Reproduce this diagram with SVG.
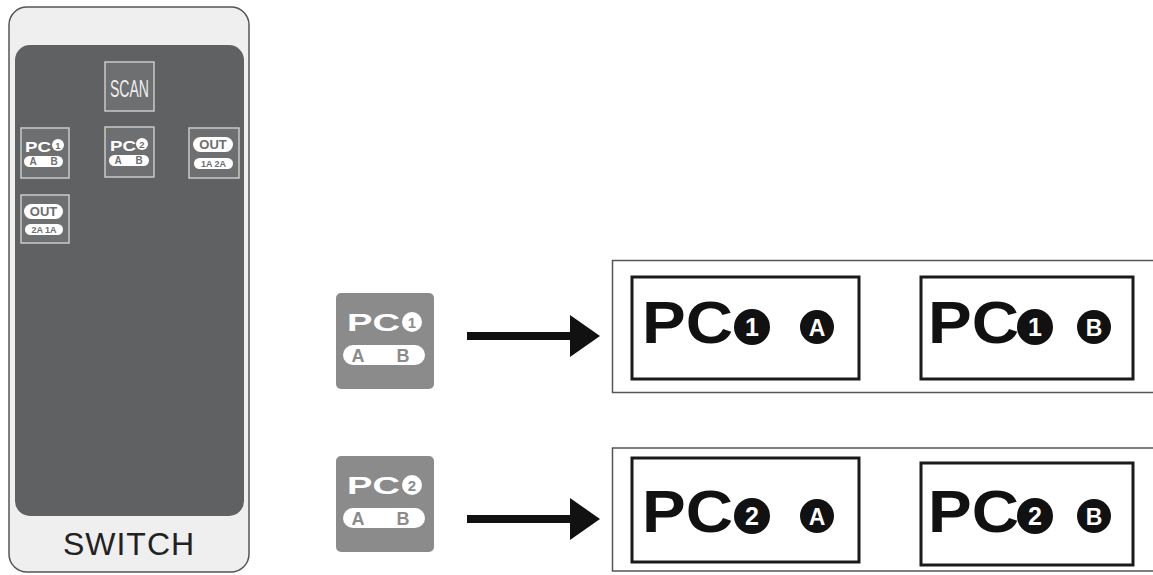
<svg xmlns="http://www.w3.org/2000/svg" width="1153" height="575" viewBox="0 0 1153 575">
<style>
.f{font-family:"Liberation Sans",Arial,sans-serif}
.b{font-weight:bold}
.btn{fill:#6d6f70;stroke:#c9c9c9;stroke-width:1.5}
.wt{fill:#ffffff}
.gt{fill:#6d6f70}
.it{fill:#8b8b8b}
.box{fill:#ffffff;stroke:#555;stroke-width:1.5}
.inner{fill:none;stroke:#1a1a1a;stroke-width:3}
.big{font-family:"Liberation Sans",Arial,sans-serif;font-weight:bold;font-size:60px;fill:#111}
.cd{fill:#111}
.ct{font-family:"Liberation Sans",Arial,sans-serif;font-weight:bold;fill:#fff;text-anchor:middle}
.arr{stroke:#111;stroke-width:8;fill:none}
</style>
<defs>
<marker id="ah" viewBox="0 0 30 42" refX="1" refY="21" markerWidth="30" markerHeight="42" markerUnits="userSpaceOnUse" orient="auto">
<path d="M0,0 L30,21 L0,42 Z" fill="#111"/>
</marker>
</defs>
<rect width="1153" height="575" fill="#fff"/>

<g id="switch-panel">
<rect x="9" y="7" width="240" height="565" rx="18" fill="#efefef" stroke="#555" stroke-width="1.5"/>
<rect x="15" y="45" width="229" height="471" rx="15" fill="#5f6162"/>
<text x="129" y="555" class="f" font-size="32" fill="#222" text-anchor="middle" letter-spacing="1">SWITCH</text>
</g>

<g id="btn-scan">
<rect x="105" y="62" width="49" height="49" class="btn"/>
<text x="110" y="97" class="f" font-size="24" fill="#eee" textLength="39" lengthAdjust="spacingAndGlyphs">SCAN</text>
</g>

<g id="btn-pc1">
<rect x="21" y="128" width="48" height="50" class="btn"/>
<text x="25" y="151.5" class="f b wt" font-size="15" textLength="26" lengthAdjust="spacingAndGlyphs">PC</text>
<circle cx="58" cy="145" r="6" class="wt"/>
<text x="58" y="148.5" class="f b gt" font-size="9.5" text-anchor="middle">1</text>
<rect x="24" y="156" width="39" height="11" rx="5.5" class="wt"/>
<text x="33" y="165" class="f b gt" font-size="10" text-anchor="middle">A</text>
<text x="54" y="165" class="f b gt" font-size="10" text-anchor="middle">B</text>
</g>

<g id="btn-pc2">
<rect x="105" y="127" width="49" height="50" class="btn"/>
<text x="110" y="150.5" class="f b wt" font-size="15" textLength="26" lengthAdjust="spacingAndGlyphs">PC</text>
<circle cx="142" cy="144" r="6" class="wt"/>
<text x="142" y="147.5" class="f b gt" font-size="9.5" text-anchor="middle">2</text>
<rect x="109" y="155" width="40" height="11" rx="5.5" class="wt"/>
<text x="118" y="164" class="f b gt" font-size="10" text-anchor="middle">A</text>
<text x="139" y="164" class="f b gt" font-size="10" text-anchor="middle">B</text>
</g>

<g id="btn-out-1a2a">
<rect x="189" y="128" width="50" height="50" class="btn"/>
<rect x="193" y="137" width="40" height="15" rx="7.5" class="wt"/>
<text x="213" y="149" class="f b gt" font-size="13" text-anchor="middle">OUT</text>
<rect x="194" y="158" width="39" height="11" rx="5.5" class="wt"/>
<text x="213.5" y="166.5" class="f b gt" font-size="9" text-anchor="middle">1A 2A</text>
</g>

<g id="btn-out-2a1a">
<rect x="21" y="195" width="48" height="48" class="btn"/>
<rect x="24" y="204" width="39" height="15" rx="7.5" class="wt"/>
<text x="43.5" y="216" class="f b gt" font-size="13" text-anchor="middle">OUT</text>
<rect x="25" y="224" width="38" height="11" rx="5.5" class="wt"/>
<text x="44" y="232.5" class="f b gt" font-size="9" text-anchor="middle">2A 1A</text>
</g>

<g id="icon-pc1">
<rect x="336" y="293" width="98" height="96" rx="5" class="it"/>
<text x="347" y="331" class="f b wt" font-size="24" textLength="53" lengthAdjust="spacingAndGlyphs">PC</text>
<circle cx="412" cy="322" r="10" class="wt"/>
<text x="412" y="327.5" class="f b it" font-size="15" text-anchor="middle">1</text>
<rect x="343" y="345" width="82" height="20" rx="10" class="wt"/>
<text x="358" y="361.5" class="f b it" font-size="18" text-anchor="middle">A</text>
<text x="403" y="361.5" class="f b it" font-size="18" text-anchor="middle">B</text>
</g>

<g id="icon-pc2">
<rect x="336" y="456" width="98" height="96" rx="5" class="it"/>
<text x="347" y="494" class="f b wt" font-size="24" textLength="53" lengthAdjust="spacingAndGlyphs">PC</text>
<circle cx="412" cy="485" r="10" class="wt"/>
<text x="412" y="490.5" class="f b it" font-size="15" text-anchor="middle">2</text>
<rect x="343" y="508" width="82" height="20" rx="10" class="wt"/>
<text x="358" y="524.5" class="f b it" font-size="18" text-anchor="middle">A</text>
<text x="403" y="524.5" class="f b it" font-size="18" text-anchor="middle">B</text>
</g>

<g id="row-pc1">
<rect x="612.5" y="260.5" width="560" height="132" class="box"/>
<g id="pc1-a">
<rect x="632" y="277" width="227" height="102" class="inner"/>
<text x="642" y="343" class="big" textLength="91" lengthAdjust="spacingAndGlyphs">PC</text>
<circle cx="752" cy="327" r="18" class="cd"/>
<text x="752" y="336" class="ct" font-size="25">1</text>
<circle cx="817" cy="327" r="17" class="cd"/>
<text x="817" y="335.5" class="ct" font-size="23">A</text>
</g>
<g id="pc1-b">
<rect x="921" y="277" width="212" height="102" class="inner"/>
<text x="928" y="343" class="big" textLength="91" lengthAdjust="spacingAndGlyphs">PC</text>
<circle cx="1035" cy="327" r="18" class="cd"/>
<text x="1035" y="336" class="ct" font-size="25">1</text>
<circle cx="1094" cy="327" r="17" class="cd"/>
<text x="1094" y="335.5" class="ct" font-size="23">B</text>
</g>
</g>

<g id="row-pc2">
<rect x="612.5" y="448" width="560" height="123" class="box"/>
<g id="pc2-a">
<rect x="632" y="458" width="227" height="104" class="inner"/>
<text x="642" y="532" class="big" textLength="91" lengthAdjust="spacingAndGlyphs">PC</text>
<circle cx="752" cy="516" r="18" class="cd"/>
<text x="752" y="525" class="ct" font-size="25">2</text>
<circle cx="817" cy="516" r="17" class="cd"/>
<text x="817" y="524.5" class="ct" font-size="23">A</text>
</g>
<g id="pc2-b">
<rect x="921" y="463" width="212" height="102" class="inner"/>
<text x="928" y="532" class="big" textLength="91" lengthAdjust="spacingAndGlyphs">PC</text>
<circle cx="1035" cy="516" r="18" class="cd"/>
<text x="1035" y="525" class="ct" font-size="25">2</text>
<circle cx="1094" cy="516" r="17" class="cd"/>
<text x="1094" y="524.5" class="ct" font-size="23">B</text>
</g>
</g>

<g id="connectors">
<path d="M467,336 H571" class="arr" marker-end="url(#ah)"/>
<path d="M467,519 H571" class="arr" marker-end="url(#ah)"/>
</g>
</svg>
